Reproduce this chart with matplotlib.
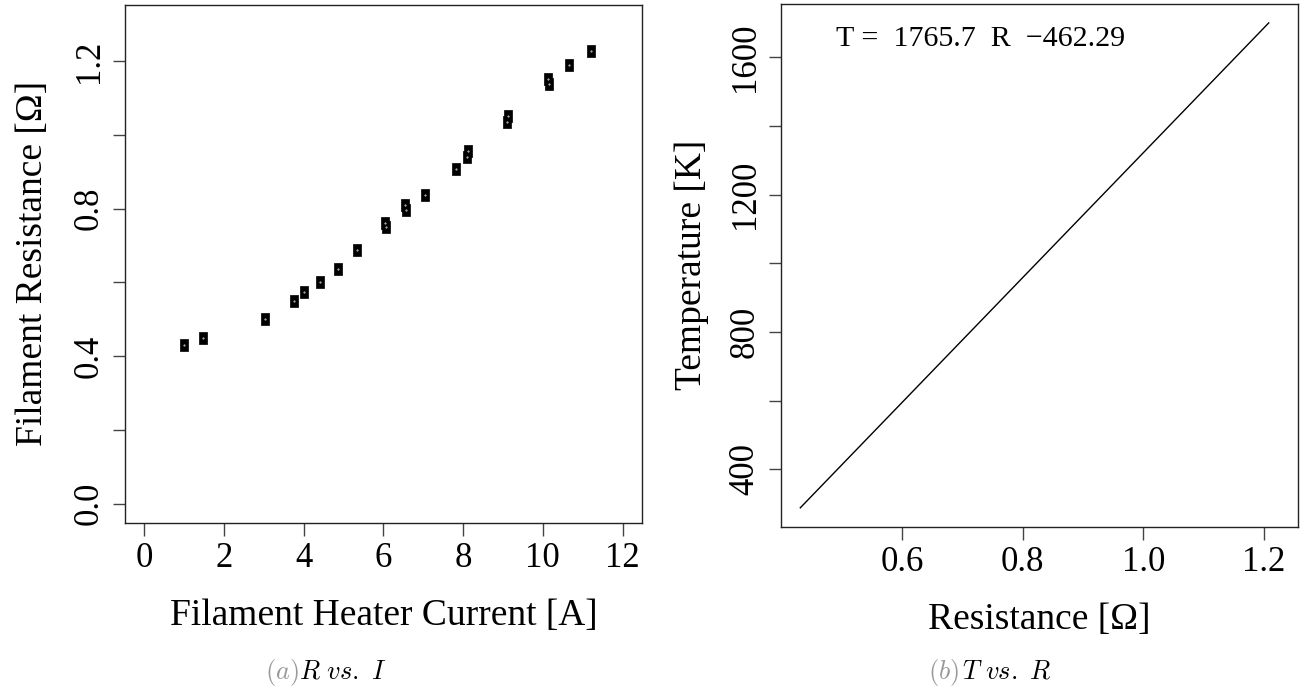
import matplotlib.pyplot as plt
import numpy as np

current = [0.99, 1.47, 3.02, 3.75, 4.02, 4.42, 4.85, 5.35, 6.05, 6.07,
           6.55, 6.56, 7.05, 7.83, 8.11, 8.12, 9.10, 9.13, 10.14, 10.15,
           10.65, 11.20]
resistance = [0.431, 0.449, 0.500, 0.548, 0.574, 0.601, 0.636, 0.688, 0.761, 0.750,
              0.810, 0.795, 0.838, 0.906, 0.941, 0.955, 1.036, 1.051, 1.150, 1.138,
              1.188, 1.226]

# T vs. R fit line end points
fit_r = [0.431, 1.208]
fit_t = [288, 1700]
fit_label = "T =  1765.7  R  \u2212462.29"

plt.rcParams['font.family'] = ['Liberation Serif', 'DejaVu Serif']
plt.rcParams['mathtext.fontset'] = 'cm'

fig = plt.figure(figsize=(13.09, 6.9), dpi=100)
W, H = 1309.0, 690.0

def r_style(ax):
    for s in ax.spines.values():
        s.set_linewidth(1.0)
        s.set_color('#222222')
    ax.tick_params(direction='out', length=9, width=1.0, labelsize=25, pad=5,
                   color='#444444')
    for lab in ax.get_yticklabels():
        lab.set_rotation(90)
        lab.set_va('center')

# left panel
ax1 = fig.add_axes([125 / W, 1 - 522.7 / H, (641.7 - 125) / W, (522.7 - 5) / H])
rect = [(-0.37, -0.5), (0.37, -0.5), (0.37, 0.5), (-0.37, 0.5), (-0.37, -0.5)]
ax1.plot(current, resistance, linestyle='none', marker=rect, markersize=8,
         color='black', markeredgewidth=0.5, markeredgecolor='black')
ax1.plot(current, resistance, linestyle='none', marker='.', markersize=0.8,
         color='white')
ax1.set_xlim(-0.48, 12.48)
ax1.set_ylim(-0.052, 1.352)
ax1.set_xticks(np.arange(0, 13, 2))
ax1.set_yticks([0.0, 0.2, 0.4, 0.6, 0.8, 1.0, 1.2])
ax1.set_yticklabels(['0.0', '', '0.4', '', '0.8', '', '1.2'])
r_style(ax1)
ax1.set_xlabel("Filament Heater Current [A]", fontsize=27, labelpad=17)
ax1.set_ylabel("Filament Resistance [\u03a9]", fontsize=27, labelpad=16)

# right panel
ax2 = fig.add_axes([781 / W, 1 - 526.7 / H, (1297.7 - 781) / W, (526.7 - 4) / H])
ax2.plot(fit_r, fit_t, color='black', linewidth=1.0)
ax2.set_xlim(0.399, 1.256)
ax2.set_ylim(233, 1755)
ax2.set_xticks([0.6, 0.8, 1.0, 1.2])
ax2.set_xticklabels(['0.6', '0.8', '1.0', '1.2'])
ax2.set_yticks(np.arange(400, 1700, 200))
ax2.set_yticklabels(['400', '', '800', '', '1200', '', '1600'])
r_style(ax2)
ax2.set_xlabel("Resistance [\u03a9]", fontsize=27, labelpad=17)
ax2.set_ylabel("Temperature [K]", fontsize=27, labelpad=14)
ax2.text(0.49, 1652, fit_label, fontsize=21.6, ha='left', va='center')

# captions
cap_kw = dict(fontsize=19, va='center')
fig.text(265 / W, 1 - 672 / H, r"$\mathit{(a)}$", color='#999999', **cap_kw)
fig.text(299 / W, 1 - 672 / H, r"$\mathit{R\ vs.\ I}$", color='black', **cap_kw)
fig.text(928 / W, 1 - 672 / H, r"$\mathit{(b)}$", color='#999999', **cap_kw)
fig.text(962 / W, 1 - 672 / H, r"$\mathit{T\ vs.\ R}$", color='black', **cap_kw)

fig.savefig("out.png", dpi=100)
